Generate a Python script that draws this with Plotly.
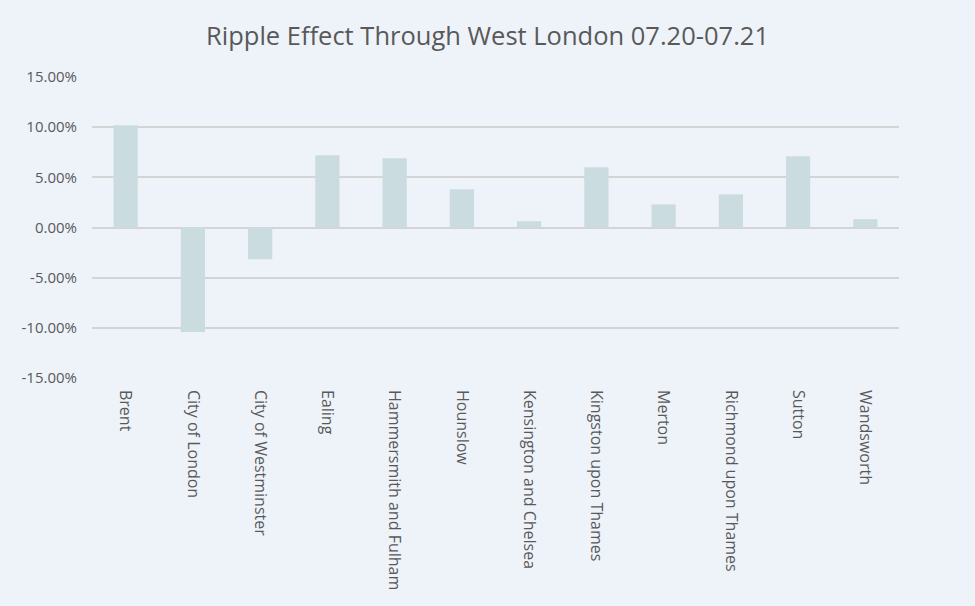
import plotly.graph_objects as go

boroughs = ["Brent", "City of London", "City of Westminster", "Ealing",
            "Hammersmith and Fulham", "Hounslow", "Kensington and Chelsea",
            "Kingston upon Thames", "Merton", "Richmond upon Thames",
            "Sutton", "Wandsworth"]
change = [0.1019, -0.104, -0.0316, 0.072, 0.069, 0.038, 0.0063,
          0.060, 0.023, 0.033, 0.071, 0.0083]
tick_vals = [-0.15, -0.10, -0.05, 0.0, 0.05, 0.10, 0.15]
tick_text = ["-15.00%", "-10.00%", "-5.00%", "0.00%", "5.00%", "10.00%", "15.00%"]

fig = go.Figure(go.Bar(x=boroughs, y=change, marker_color="#CADCE0",
                       marker_line_width=0, width=0.36))

fig.update_layout(
    width=975, height=606,
    paper_bgcolor="#EEF3FA", plot_bgcolor="#EEF3FA",
    margin=dict(l=92, r=76, t=76, b=227),
    title=dict(text="Ripple Effect Through West London 07.20-07.21",
               x=0.5, xanchor="center", y=1 - 36 / 606, yanchor="middle",
               font=dict(family="Open Sans", size=25.5, color="#595959")),
    font=dict(family="Open Sans", color="#595959"),
    showlegend=False,
)
fig.update_xaxes(tickangle=90, tickfont=dict(size=16, color="#595959"),
                 showgrid=False, showline=False, ticks="", ticklen=0,
                 ticklabelstandoff=10)
fig.update_yaxes(range=[-0.1508, 0.1508], tickvals=tick_vals, ticktext=tick_text,
                 showgrid=True, gridcolor="#D4D4D4", gridwidth=1.5,
                 zeroline=True, zerolinecolor="#D4D4D4", zerolinewidth=1.5,
                 tickfont=dict(size=15, color="#595959"), ticks="", ticklen=0,
                 ticklabelstandoff=14)

fig.write_html("out.html", config={"displayModeBar": False},
               post_script="document.body.style.margin='0';document.body.style.background='#EEF3FA';")
